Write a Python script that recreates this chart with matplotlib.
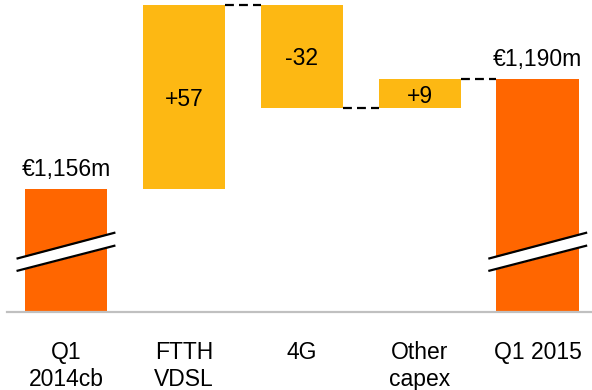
import matplotlib
matplotlib.use("Agg")
import matplotlib.pyplot as plt

categories = ["Q1\n2014cb", "FTTH\nVDSL", "4G", "Other\ncapex", "Q1 2015"]
start_value = 1156
changes = [57, -32, 9]
end_value = 1190
total_labels = ["€1,156m", "€1,190m"]
change_labels = ["+57", "-32", "+9"]

ORANGE = "#FF6600"
YELLOW = "#FDB813"
plt.rcParams["font.family"] = ["Liberation Sans", "DejaVu Sans"]
FS = 16.5

fig = plt.figure(figsize=(5.92, 3.90), dpi=100)
ax = fig.add_axes([7 / 592, (390 - 311.5) / 390, 1 - 7 / 592, 311.5 / 390])
base = 1118.2
ax.set_ylim(base, 1214.4)
ax.set_xlim(-0.5, 4.46)
w = 0.70

# totals
ax.bar(0, start_value - base, bottom=base, width=w, color=ORANGE, zorder=2)
ax.bar(4, end_value - base, bottom=base, width=w, color=ORANGE, zorder=2)

# changes
level = start_value
levels = []
for i, c in enumerate(changes):
    lo, hi = min(level, level + c), max(level, level + c)
    ax.bar(i + 1, hi - lo, bottom=lo, width=w, color=YELLOW, zorder=2)
    ax.text(i + 1, (lo + hi) / 2, change_labels[i], ha="center", va="center_baseline",
            fontsize=FS, color="black", zorder=3)
    levels.append((level, level + c))
    level += c

# connectors (skip first one)
for i in range(1, len(changes) + 1):
    y = levels[i - 1][1]
    ax.plot([i + w / 2, i + 1 - w / 2], [y, y], color="black", lw=1.6,
            linestyle=(0, (4, 2.3)), zorder=1, solid_capstyle="butt",
            dash_capstyle="butt")

# total labels
ax.text(0, start_value + 4.0, total_labels[0], ha="center", va="baseline", fontsize=FS)
ax.text(4, end_value + 4.0, total_labels[1], ha="center", va="baseline", fontsize=FS)

# break marks
for xc in (0, 4):
    x0, x1 = xc - 0.41, xc + 0.41
    up = [1134.6, 1142.5]
    lo = [1130.8, 1138.5]
    ax.fill_between([x0, x1], lo, up, color="white", zorder=4, lw=0)
    ax.plot([x0, x1], up, color="black", lw=1.6, zorder=5)
    ax.plot([x0, x1], lo, color="black", lw=1.6, zorder=5)

ax.axhline(base, color="#C0C0C0", lw=1.6, zorder=3, clip_on=False)
ax.set_xticks(range(5))
ax.set_xticklabels(categories, fontsize=FS, linespacing=1.22)
ax.tick_params(axis="x", length=0, pad=21)
ax.set_yticks([])
for s in ax.spines.values():
    s.set_visible(False)

fig.savefig("out.png", dpi=100)
